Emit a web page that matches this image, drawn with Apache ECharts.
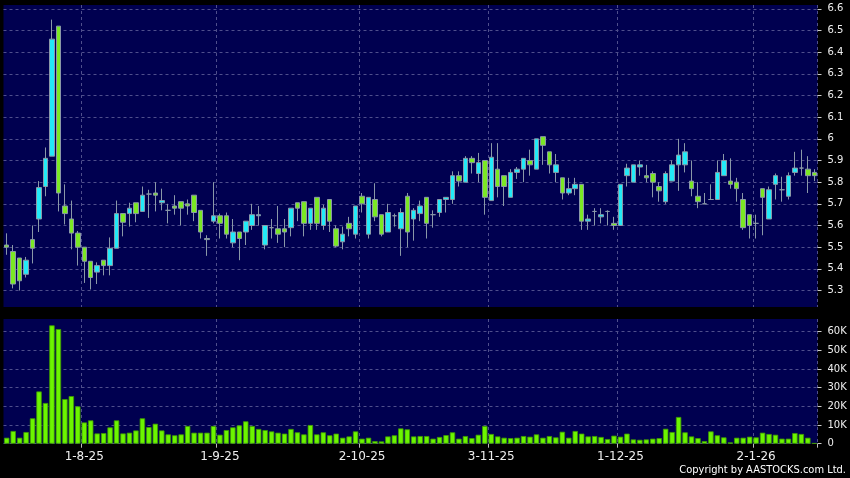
<!DOCTYPE html>
<html><head><meta charset="utf-8">
<script src="https://cdn.jsdelivr.net/npm/echarts@6/dist/echarts.min.js"></script>
<style>html,body{margin:0;padding:0;background:#000;}#c{width:850px;height:478px;}</style>
</head><body><div id="c"></div>
<script>
const dates = [
 '2025-07-16','2025-07-17','2025-07-18','2025-07-21','2025-07-22','2025-07-23','2025-07-24','2025-07-25','2025-07-28','2025-07-29','2025-07-30','2025-07-31',
 '2025-08-01','2025-08-04','2025-08-05','2025-08-06','2025-08-07','2025-08-08','2025-08-11','2025-08-12','2025-08-13','2025-08-14','2025-08-15','2025-08-18','2025-08-19','2025-08-20','2025-08-21','2025-08-22','2025-08-25','2025-08-26','2025-08-27','2025-08-28','2025-08-29',
 '2025-09-01','2025-09-02','2025-09-03','2025-09-04','2025-09-05','2025-09-08','2025-09-09','2025-09-10','2025-09-11','2025-09-12','2025-09-15','2025-09-16','2025-09-17','2025-09-18','2025-09-19','2025-09-22','2025-09-23','2025-09-24','2025-09-25','2025-09-26','2025-09-29','2025-09-30',
 '2025-10-02','2025-10-03','2025-10-06','2025-10-08','2025-10-09','2025-10-10','2025-10-13','2025-10-14','2025-10-15','2025-10-16','2025-10-17','2025-10-20','2025-10-21','2025-10-22','2025-10-23','2025-10-24','2025-10-27','2025-10-28','2025-10-30','2025-10-31',
 '2025-11-03','2025-11-04','2025-11-05','2025-11-06','2025-11-07','2025-11-10','2025-11-11','2025-11-12','2025-11-13','2025-11-14','2025-11-17','2025-11-18','2025-11-19','2025-11-20','2025-11-21','2025-11-24','2025-11-25','2025-11-26','2025-11-27','2025-11-28',
 '2025-12-01','2025-12-02','2025-12-03','2025-12-04','2025-12-05','2025-12-08','2025-12-09','2025-12-10','2025-12-11','2025-12-12','2025-12-15','2025-12-16','2025-12-17','2025-12-18','2025-12-19','2025-12-22','2025-12-23','2025-12-24','2025-12-29','2025-12-30','2025-12-31',
 '2026-01-02','2026-01-05','2026-01-06','2026-01-07','2026-01-08','2026-01-09','2026-01-12','2026-01-13','2026-01-14','2026-01-15'
];
const openP = [5.51,5.48,5.45,5.375,5.535,5.63,5.78,5.92,6.52,5.69,
 5.63,5.565,5.50,5.435,5.385,5.44,5.415,5.495,5.655,5.655,
 5.705,5.665,5.745,5.75,5.705,5.67,5.69,5.71,5.70,5.74,
 5.67,5.54,5.62,5.645,5.645,5.52,5.57,5.57,5.60,5.645,
 5.51,5.59,5.585,5.585,5.59,5.705,5.71,5.61,5.73,5.60,
 5.72,5.585,5.525,5.61,5.56,5.735,5.56,5.72,5.65,5.57,
 5.645,5.585,5.735,5.63,5.655,5.73,5.65,5.66,5.72,5.72,
 5.83,5.80,5.91,5.84,5.90,5.715,5.86,5.83,5.73,5.845,
 5.86,5.90,5.86,6.01,5.94,5.845,5.82,5.75,5.77,5.79,
 5.62,5.665,5.64,5.665,5.61,5.60,5.83,5.80,5.87,5.83,
 5.84,5.78,5.71,5.805,5.88,5.88,5.805,5.735,5.70,5.72,
 5.72,5.83,5.805,5.80,5.72,5.65,5.61,5.77,5.63,5.79,
 5.765,5.735,5.845,5.865,5.86,5.845];
const closeP = [5.50,5.33,5.345,5.44,5.495,5.775,5.91,6.46,5.75,5.655,
 5.565,5.50,5.435,5.36,5.415,5.415,5.495,5.655,5.615,5.68,
 5.655,5.74,5.745,5.74,5.715,5.67,5.68,5.68,5.69,5.66,
 5.57,5.535,5.645,5.61,5.56,5.57,5.54,5.62,5.65,5.65,
 5.60,5.59,5.56,5.57,5.68,5.68,5.61,5.68,5.61,5.68,
 5.62,5.505,5.56,5.585,5.69,5.70,5.73,5.64,5.56,5.66,
 5.645,5.66,5.57,5.67,5.69,5.61,5.65,5.72,5.73,5.83,
 5.805,5.91,5.89,5.89,5.73,5.915,5.78,5.78,5.845,5.86,
 5.91,5.88,6.00,5.97,5.88,5.88,5.75,5.77,5.79,5.62,
 5.63,5.665,5.65,5.665,5.60,5.79,5.865,5.88,5.88,5.82,
 5.80,5.76,5.84,5.88,5.925,5.94,5.77,5.71,5.70,5.72,
 5.845,5.90,5.79,5.77,5.59,5.60,5.61,5.73,5.765,5.83,
 5.765,5.83,5.865,5.865,5.83,5.83];
const lowP = [5.465,5.31,5.30,5.36,5.425,5.57,5.735,5.92,5.665,5.605,
 5.49,5.415,5.335,5.305,5.33,5.37,5.37,5.495,5.55,5.595,
 5.615,5.665,5.635,5.665,5.67,5.61,5.65,5.60,5.65,5.62,
 5.54,5.46,5.61,5.54,5.54,5.50,5.44,5.51,5.58,5.60,
 5.49,5.54,5.52,5.50,5.55,5.62,5.55,5.58,5.58,5.58,
 5.57,5.50,5.49,5.55,5.54,5.66,5.54,5.62,5.55,5.57,
 5.595,5.46,5.50,5.53,5.62,5.54,5.59,5.64,5.66,5.70,
 5.78,5.80,5.84,5.80,5.65,5.715,5.73,5.69,5.73,5.815,
 5.80,5.83,5.86,5.88,5.84,5.80,5.72,5.74,5.74,5.58,
 5.58,5.60,5.61,5.60,5.58,5.60,5.78,5.80,5.83,5.80,
 5.73,5.71,5.70,5.805,5.76,5.845,5.735,5.68,5.70,5.72,
 5.72,5.83,5.77,5.71,5.58,5.54,5.54,5.555,5.63,5.72,
 5.71,5.72,5.83,5.83,5.75,5.805];
const highP = [5.564,5.51,5.45,5.455,5.60,5.805,5.96,6.55,6.52,5.79,
 5.715,5.575,5.50,5.435,5.43,5.44,5.545,5.715,5.655,5.705,
 5.705,5.78,5.765,5.80,5.77,5.70,5.74,5.71,5.72,5.74,
 5.67,5.555,5.80,5.655,5.66,5.63,5.57,5.62,5.70,5.69,
 5.60,5.63,5.69,5.63,5.68,5.705,5.71,5.68,5.73,5.695,
 5.72,5.60,5.595,5.64,5.69,5.75,5.73,5.795,5.65,5.70,
 5.655,5.68,5.75,5.68,5.715,5.73,5.67,5.72,5.73,5.85,
 5.85,5.92,5.92,5.935,5.90,5.98,5.98,5.83,5.86,5.87,
 5.91,5.95,6.00,6.01,5.94,5.93,5.82,5.82,5.82,5.79,
 5.65,5.68,5.68,5.67,5.64,5.79,5.885,5.88,5.90,5.88,
 5.85,5.80,5.85,5.90,6.00,5.98,5.90,5.80,5.75,5.79,
 5.90,5.93,5.91,5.82,5.75,5.65,5.65,5.77,5.78,5.84,
 5.825,5.845,5.94,5.95,5.92,5.86];
const volumeK = [3.2,6.8,3.2,6.25,13.6,28,21.8,63.4,61.4,23.9,
 25.5,20,11.4,12.5,5.5,5.7,8.75,12.5,5.5,5.9,
 7.1,13.6,8.9,10.7,7.1,5,4.5,5,9.5,5.9,
 5.9,5.9,9.5,4.8,7.3,8.75,9.8,12,9.5,7.9,
 7.3,6.6,5.9,5.4,7.9,6.1,5,10,5,6.1,
 4.5,5.4,3.2,3.9,6.6,2.7,3.2,1.4,1.25,3.9,
 4.5,8.2,7.7,3.9,4.1,4.1,2.7,3.6,4.6,6.1,
 2.7,4.1,3,4.8,9.5,5.2,3.9,3.2,3,3.2,
 4.1,3.75,5,3.2,4.1,3.4,6.4,3.2,6.8,5.4,
 3.9,4.1,3.6,2.5,4.3,3.75,5.4,2.3,2.1,2.3,
 2.7,3,8,6.25,14.3,6.1,3.9,3,1.4,6.6,
 4.5,3.4,0.7,3.2,3.2,3.75,3.4,5.9,5.2,4.8,
 2.7,2.7,5.7,5.2,3.2,0.3];
const priceTicks = [5.3,5.4,5.5,5.6,5.7,5.8,5.9,6.0,6.1,6.2,6.3,6.4,6.5,6.6];
const volumeTicks = [0,10,20,30,40,50,60];

const isMonthStart = i => i > 0 && i < dates.length && dates[i].slice(5,7) !== dates[i-1].slice(5,7);
const fmtDate = d => { const p = d.split('-'); return (+p[2]) + '-' + (+p[1]) + '-' + p[0].slice(2); };

const FONT = 'DejaVu Sans';
const gridLine = { show: true, lineStyle: { color: '#4f4f8c', type: [3, 3], width: 1 } };
const vSplit = { show: true, interval: (i) => isMonthStart(i), lineStyle: { color: '#4f4f8c', type: [3, 3], width: 1 } };

const chart = echarts.init(document.getElementById('c'), null, { renderer: 'canvas' });
chart.setOption({
  backgroundColor: '#000000',
  animation: false,
  grid: [
    { left: 3.5, width: 814, top: 5, height: 302, show: true, backgroundColor: '#000050', borderWidth: 0 },
    { left: 3.5, width: 814, top: 319, height: 124.7, show: true, backgroundColor: '#000050', borderWidth: 0 }
  ],
  xAxis: [
    { type: 'category', gridIndex: 0, data: dates, boundaryGap: true,
      axisLine: { show: false }, axisTick: { show: false }, axisLabel: { show: false }, splitLine: vSplit },
    { type: 'category', gridIndex: 1, data: dates, boundaryGap: true,
      axisLine: { show: false },
      axisTick: { show: true, interval: (i) => isMonthStart(i), length: 4, lineStyle: { color: '#bbbbbb' } },
      axisLabel: { show: true, interval: (i) => isMonthStart(i), formatter: fmtDate, color: '#eeeeee', fontFamily: FONT, fontSize: 12, margin: 7 },
      splitLine: vSplit }
  ],
  yAxis: [
    { type: 'value', gridIndex: 0, position: 'right', min: 5.224, max: 6.6175, minInterval: 0.1, maxInterval: 0.1, scale: true,
      axisLine: { show: false },
      axisTick: { show: true, customValues: priceTicks, length: 4, lineStyle: { color: '#cccccc' } },
      axisLabel: { show: true, customValues: priceTicks, formatter: v => String(Math.round(v * 10) / 10), color: '#eeeeee', fontFamily: FONT, fontSize: 10, margin: 10 },
      splitLine: gridLine },
    { type: 'value', gridIndex: 1, position: 'right', min: 0, max: 66.8, interval: 10,
      axisLine: { show: false },
      axisTick: { show: true, customValues: volumeTicks, length: 4, lineStyle: { color: '#cccccc' } },
      axisLabel: { show: true, customValues: volumeTicks, showMinLabel: true, showMaxLabel: true, formatter: v => v === 0 ? '0' : (v + 'K'), color: '#eeeeee', fontFamily: FONT, fontSize: 10, margin: 10 },
      splitLine: gridLine }
  ],
  series: [
    { type: 'candlestick', xAxisIndex: 0, yAxisIndex: 0, barWidth: 5,
      data: dates.map((d, i) => [openP[i], closeP[i], lowP[i], highP[i]]),
      itemStyle: { color: '#22eaf8', color0: '#7be824', borderColor: '#8a98a8', borderColor0: '#8a98a8', borderColorDoji: '#8a98a8', borderWidth: 1 } },
    { type: 'bar', xAxisIndex: 1, yAxisIndex: 1, barWidth: 5.4,
      data: volumeK,
      itemStyle: { color: '#6cf500', borderColor: '#3f9a00', borderWidth: 0.8 } }
  ],
  graphic: [
    { type: 'text', right: 4, bottom: 2, style: { text: 'Copyright by AASTOCKS.com Ltd.', fill: '#ffffff', font: '11px "DejaVu Sans Condensed", "DejaVu Sans"' } }
  ]
});
</script>
</body></html>
